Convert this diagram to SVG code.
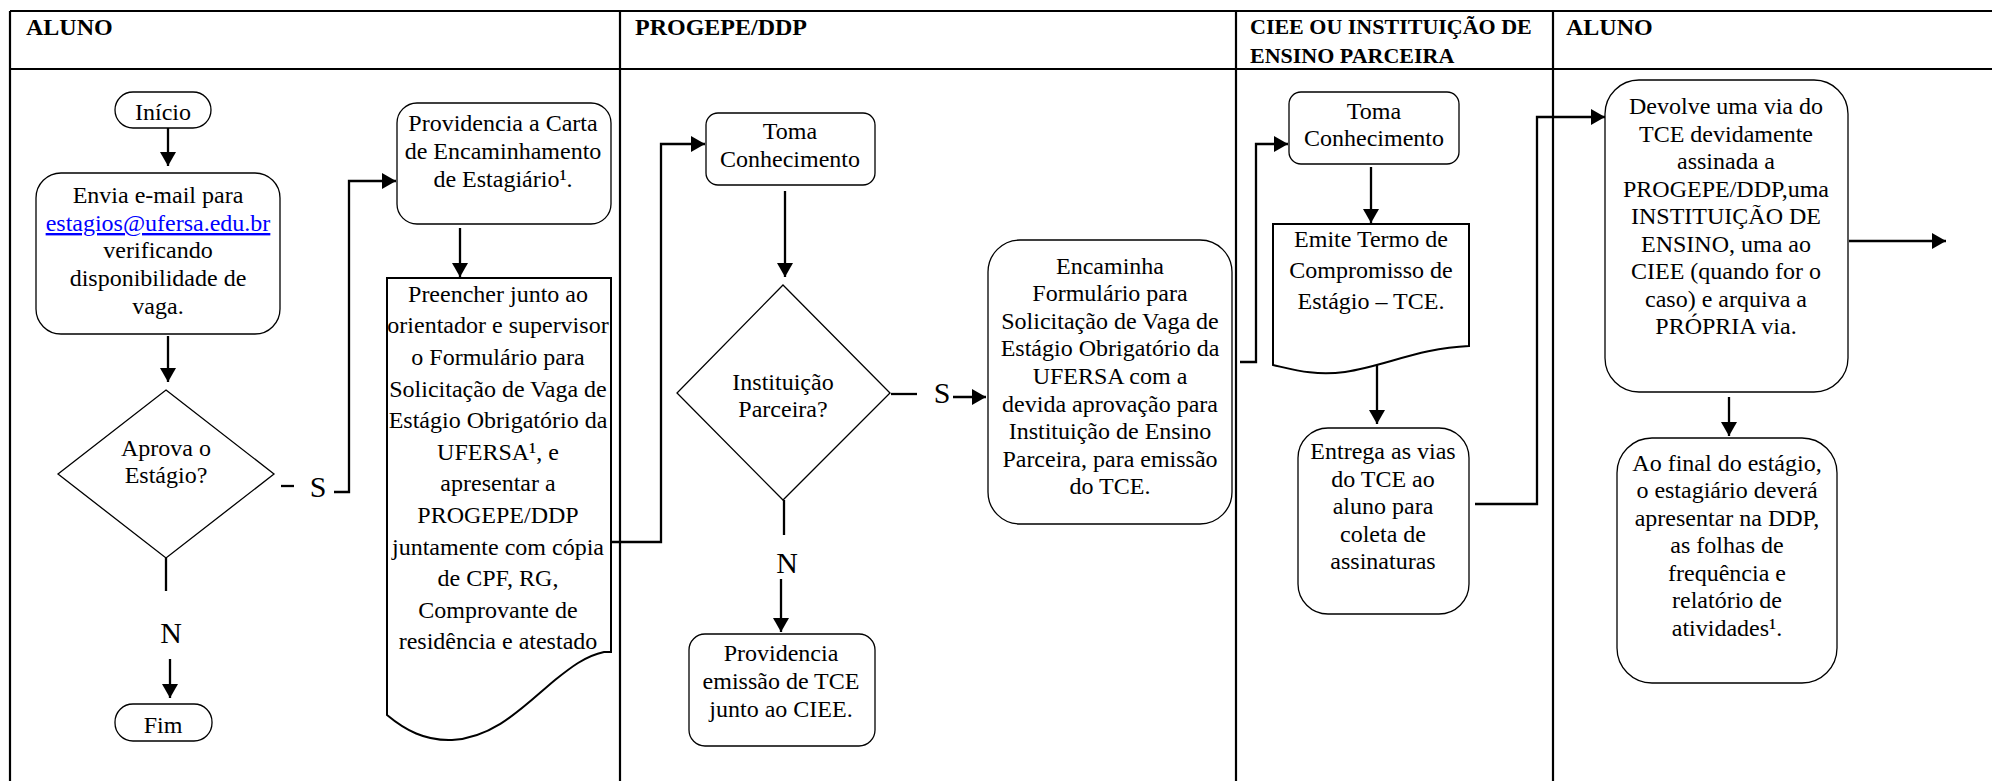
<svg xmlns="http://www.w3.org/2000/svg" width="1992" height="781" viewBox="0 0 1992 781">
<style>
text{font-family:"Liberation Serif","Times New Roman",serif;font-size:24px;fill:#000;text-anchor:middle}
.hd{font-weight:bold;text-anchor:start}
.lab{font-size:30px}
.lane{stroke:#000;stroke-width:2.2;fill:none}
.box{fill:#fff;stroke:#000;stroke-width:1.3}
.doc{fill:#fff;stroke:#000;stroke-width:2}
.con{fill:none;stroke:#000;stroke-width:2.3}
.link{fill:#0000ff;text-decoration:underline}
</style>
<defs>
<marker id="ah" viewBox="0 0 14 16" refX="14" refY="8" markerWidth="14" markerHeight="16" markerUnits="userSpaceOnUse" orient="auto">
<path d="M0,0 L14,8 L0,16 z" fill="#000"/>
</marker>
</defs>
<rect width="1992" height="781" fill="#fff"/>
<g id="lanes">
<path class="lane" d="M10,11 H1992 M10,69 H1992 M10,11 V781 M620,11 V781 M1236,11 V781 M1553,11 V781"/>
<text class="hd" x="26" y="35">ALUNO</text>
<text class="hd" x="635" y="35">PROGEPE/DDP</text>
<text class="hd" x="1250" y="34" style="font-size:22px">CIEE OU INSTITUIÇÃO DE</text>
<text class="hd" x="1250" y="63" style="font-size:22px">ENSINO PARCEIRA</text>
<text class="hd" x="1566" y="35">ALUNO</text>
</g>
<g id="connectors">
<path class="con" d="M168,128 V166" marker-end="url(#ah)"/>
<path class="con" d="M168,336 V382" marker-end="url(#ah)"/>
<path class="con" d="M166,558 V591"/>
<path class="con" d="M170,659 V698" marker-end="url(#ah)"/>
<path class="con" d="M281,486 H294"/>
<path class="con" d="M334,492 H349 V181 H396" marker-end="url(#ah)"/>
<path class="con" d="M460,228 V277" marker-end="url(#ah)"/>
<path class="con" d="M611,542 H661 V144 H705" marker-end="url(#ah)"/>
<path class="con" d="M785,191 V277" marker-end="url(#ah)"/>
<path class="con" d="M891,394 H917"/>
<path class="con" d="M953,397 H986" marker-end="url(#ah)"/>
<path class="con" d="M784,500 V535"/>
<path class="con" d="M781,579 V632" marker-end="url(#ah)"/>
<path class="con" d="M1240,362 H1256 V144 H1288" marker-end="url(#ah)"/>
<path class="con" d="M1371,167 V223" marker-end="url(#ah)"/>
<path class="con" d="M1377,363 V424" marker-end="url(#ah)"/>
<path class="con" d="M1475,504 H1537 V117 H1605" marker-end="url(#ah)"/>
<path class="con" d="M1849,241 H1946" marker-end="url(#ah)"/>
<path class="con" d="M1729,397 V436" marker-end="url(#ah)"/>
<text class="lab" x="318" y="497">S</text>
<text class="lab" x="171" y="643">N</text>
<text class="lab" x="942" y="403">S</text>
<text class="lab" x="787" y="573">N</text>
</g>
<g id="inicio">
<rect class="box" x="115" y="92" width="96" height="36" rx="18"/>
<text x="163" y="120">Início</text>
</g>
<g id="envia">
<rect class="box" x="36" y="173" width="244" height="161" rx="25"/>
<text x="158" y="203">Envia e-mail para</text>
<text x="158" y="231" class="link">estagios@ufersa.edu.br</text>
<text x="158" y="258">verificando</text>
<text x="158" y="286">disponibilidade de</text>
<text x="158" y="314">vaga.</text>
</g>
<g id="aprova">
<polygon class="box" points="166,390 274,474 166,558 58,474"/>
<text x="166" y="456">Aprova o</text>
<text x="166" y="483">Estágio?</text>
</g>
<g id="fim">
<rect class="box" x="115" y="704" width="97" height="37" rx="18"/>
<text x="163" y="733">Fim</text>
</g>
<g id="carta">
<rect class="box" x="397" y="103" width="214" height="121" rx="20"/>
<text x="503" y="131">Providencia a Carta</text>
<text x="503" y="159">de Encaminhamento</text>
<text x="503" y="186.5">de Estagiário¹.</text>
</g>
<g id="preencher">
<path class="doc" d="M387,278 H611 V652 H604 C585,656 570,668 555,680 C525,705 495,738 452,740 C425,741 405,730 387,715 Z"/>
<text x="498" y="301.7">Preencher junto ao</text>
<text x="498" y="333.3">orientador e supervisor</text>
<text x="498" y="364.9">o Formulário para</text>
<text x="498" y="396.5">Solicitação de Vaga de</text>
<text x="498" y="428.1">Estágio Obrigatório da</text>
<text x="498" y="459.7">UFERSA¹, e</text>
<text x="498" y="491.3">apresentar a</text>
<text x="498" y="522.9">PROGEPE/DDP</text>
<text x="498" y="554.5">juntamente com cópia</text>
<text x="498" y="586.1">de CPF, RG,</text>
<text x="498" y="617.7">Comprovante de</text>
<text x="498" y="649.3">residência e atestado</text>
</g>
<g id="toma1">
<rect class="box" x="706" y="113" width="169" height="72" rx="12"/>
<text x="790" y="139">Toma</text>
<text x="790" y="166.5">Conhecimento</text>
</g>
<g id="parceira">
<polygon class="box" points="783,285 890,393 783,500 677,393"/>
<text x="783" y="390">Instituição</text>
<text x="783" y="417">Parceira?</text>
</g>
<g id="ciee">
<rect class="box" x="689" y="634" width="186" height="112" rx="16"/>
<text x="781" y="661">Providencia</text>
<text x="781" y="689">emissão de TCE</text>
<text x="781" y="717">junto ao CIEE.</text>
</g>
<g id="encaminha">
<rect class="box" x="988" y="240" width="244" height="284" rx="32"/>
<text x="1110" y="273.5">Encaminha</text>
<text x="1110" y="301.1">Formulário para</text>
<text x="1110" y="328.7">Solicitação de Vaga de</text>
<text x="1110" y="356.3">Estágio Obrigatório da</text>
<text x="1110" y="383.9">UFERSA com a</text>
<text x="1110" y="411.5">devida aprovação para</text>
<text x="1110" y="439.1">Instituição de Ensino</text>
<text x="1110" y="466.7">Parceira, para emissão</text>
<text x="1110" y="494.3">do TCE.</text>
</g>
<g id="toma2">
<rect class="box" x="1289" y="92" width="170" height="72" rx="12"/>
<text x="1374" y="118.5">Toma</text>
<text x="1374" y="145.5">Conhecimento</text>
</g>
<g id="emite">
<path class="doc" d="M1273,224 H1469 V346 C1420,348 1385,366 1345,372 C1315,376 1295,370 1273,365 Z"/>
<text x="1371" y="246.7">Emite Termo de</text>
<text x="1371" y="277.8">Compromisso de</text>
<text x="1371" y="309">Estágio – TCE.</text>
</g>
<g id="entrega">
<rect class="box" x="1298" y="428" width="171" height="186" rx="30"/>
<text x="1383" y="459">Entrega as vias</text>
<text x="1383" y="487">do TCE ao</text>
<text x="1383" y="514">aluno para</text>
<text x="1383" y="542">coleta de</text>
<text x="1383" y="569">assinaturas</text>
</g>
<g id="devolve">
<rect class="box" x="1605" y="80" width="243" height="312" rx="34"/>
<text x="1726" y="114">Devolve uma via do</text>
<text x="1726" y="141.5">TCE devidamente</text>
<text x="1726" y="169">assinada a</text>
<text x="1726" y="196.5">PROGEPE/DDP,uma</text>
<text x="1726" y="224">INSTITUIÇÃO DE</text>
<text x="1726" y="251.5">ENSINO, uma ao</text>
<text x="1726" y="279">CIEE (quando for o</text>
<text x="1726" y="306.5">caso) e arquiva a</text>
<text x="1726" y="334">PRÓPRIA via.</text>
</g>
<g id="aofinal">
<rect class="box" x="1617" y="438" width="220" height="245" rx="35"/>
<text x="1727" y="470.6">Ao final do estágio,</text>
<text x="1727" y="498">o estagiário deverá</text>
<text x="1727" y="525.5">apresentar na DDP,</text>
<text x="1727" y="553">as folhas de</text>
<text x="1727" y="580.5">frequência e</text>
<text x="1727" y="608">relatório de</text>
<text x="1727" y="635.5">atividades¹.</text>
</g>
</svg>
